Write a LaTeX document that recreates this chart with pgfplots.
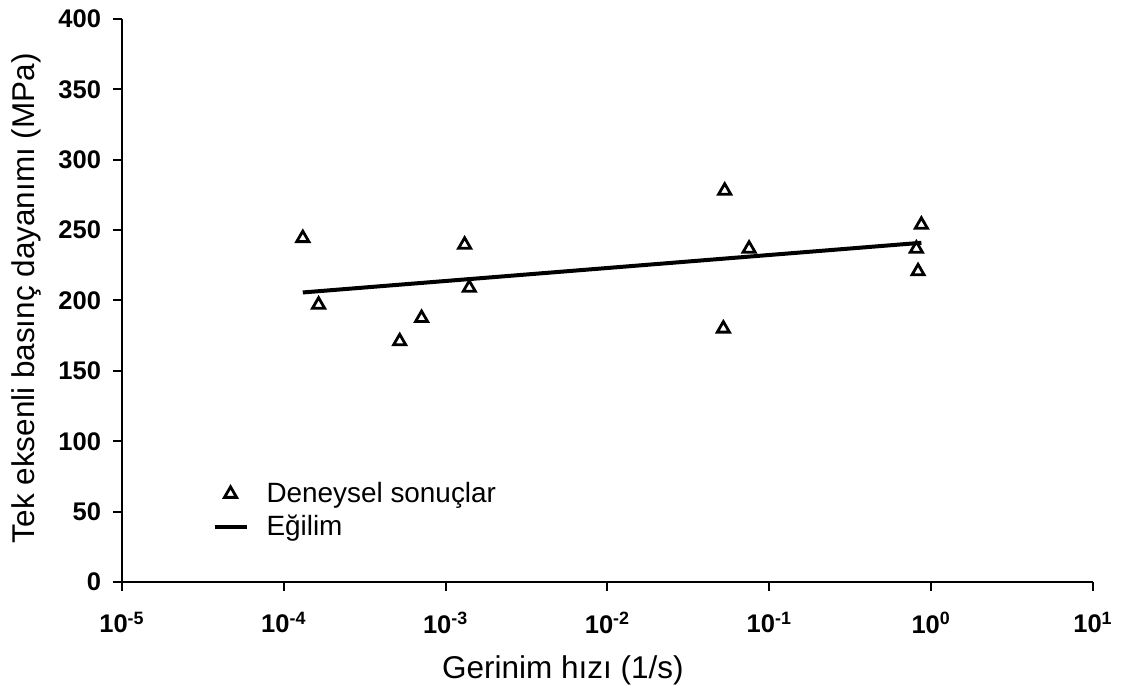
\documentclass[border=0pt]{standalone}
\usepackage{pgfplots}
\pgfplotsset{compat=1.18}
\usepackage{fontspec}
\setmainfont{Liberation Sans}
\begin{document}
\begin{tikzpicture}
\begin{axis}[
  scale only axis, width=485.5bp, height=281.5bp,
  xmode=log, xmin=1e-5, xmax=1e1, ymin=0, ymax=400,
  axis lines*=left,
  axis line style={line width=1bp, black},
  xtick={1e-5,1e-4,1e-3,1e-2,1e-1,1e0,1e1},
  xticklabels={10\textsuperscript{-5},10\textsuperscript{-4},10\textsuperscript{-3},10\textsuperscript{-2},10\textsuperscript{-1},10\textsuperscript{0},10\textsuperscript{1}},
  xminorticks=false,
  ytick={0,50,...,400},
  /pgf/number format/assume math mode=true,
  tick align=outside, major tick length=4.5bp,
  tick style={line width=1bp, black},
  tick label style={font=\fontsize{12.8}{14}\selectfont\bfseries},
  xticklabel style={yshift=-7bp},
  yticklabel style={xshift=-2.5bp},
  xlabel={Gerinim hızı (1/s)},
  ylabel={Tek eksenli basınç dayanımı (MPa)},
  label style={font=\fontsize{15.8}{18}\selectfont},
  xlabel style={at={(axis description cs:0.454,-0.157)}, anchor=center},
  ylabel style={at={(axis description cs:-0.0985,0.504)}, anchor=center},
  legend style={draw=none, fill=none, at={(axis description cs:0.0867,0.192)}, anchor=north west,
    font=\fontsize{14}{16}\selectfont, row sep=1bp,
    /tikz/every odd column/.append style={column sep=7bp}},
  legend cell align=left,
  legend image code/.code={\draw[mark repeat=2,mark phase=2,#1] plot coordinates {(0bp,0bp) (8bp,0bp) (16bp,0bp)};},
]
\addplot[only marks, mark=triangle, mark size=3.5bp, mark options={line width=1.4bp, black}] coordinates {
(1.31e-4,244.3)
(1.64e-4,197)
(5.2e-4,171)
(7.1e-4,187.5)
(1.31e-3,239.6)
(1.40e-3,209)
(5.3e-2,278)
(5.2e-2,180)
(7.5e-2,236.8)
(0.87,253.8)
(0.81,236.8)
(0.83,220.7)
};
\addlegendentry{Deneysel sonuçlar}
\addplot[line width=2bp, black, no marks] coordinates {(1.31e-4,205.7) (0.87,241)};
\addlegendentry{Eğilim}
\coordinate (LL) at (rel axis cs:0,0);
\coordinate (UR) at (rel axis cs:1,1);
\end{axis}
\pgfresetboundingbox
\useasboundingbox ([shift={(-61bp,-57.5bp)}]LL) rectangle ([shift={(20bp,9.5bp)}]UR);
\end{tikzpicture}
\end{document}
